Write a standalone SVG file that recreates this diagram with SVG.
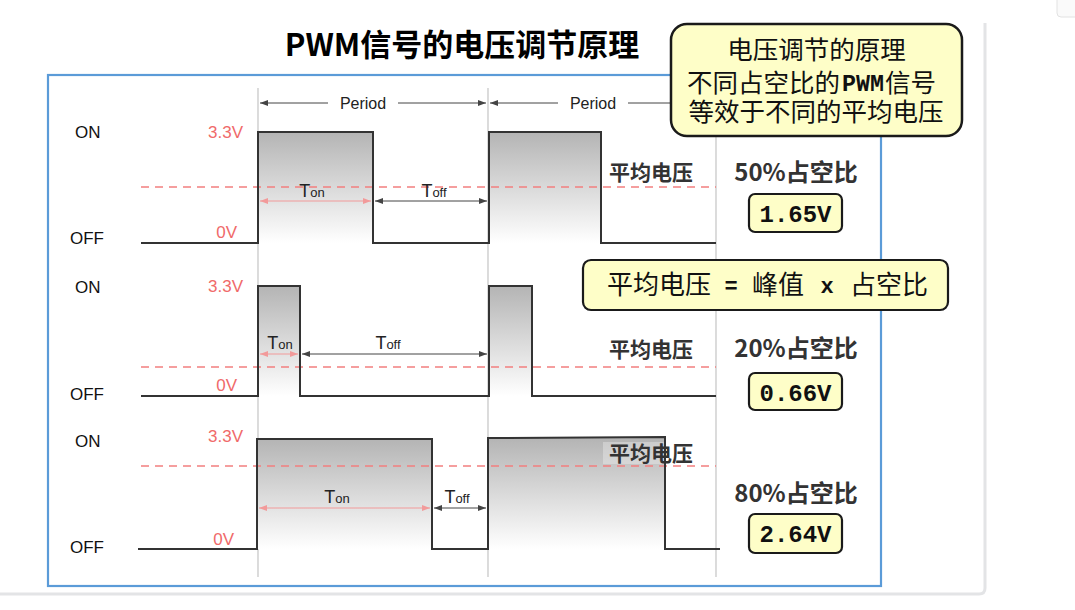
<svg xmlns="http://www.w3.org/2000/svg" width="1075" height="610" viewBox="0 0 1075 610">
<defs>
<linearGradient id="pulse" x1="0" y1="0" x2="0" y2="1">
<stop offset="0" stop-color="#b4b4b4"/>
<stop offset="1" stop-color="#ffffff"/>
</linearGradient>
<marker id="ad" markerWidth="8" markerHeight="6" refX="8" refY="3" orient="auto-start-reverse" markerUnits="userSpaceOnUse">
<path d="M0,0 L8,3 L0,6 z" fill="#444"/>
</marker>
<marker id="ap" markerWidth="8" markerHeight="6" refX="8" refY="3" orient="auto-start-reverse" markerUnits="userSpaceOnUse">
<path d="M0,0 L8,3 L0,6 z" fill="#f29a9a"/>
</marker>
<style>
.lat{font-family:"Liberation Sans",Arial,sans-serif;}
.cjk{font-family:"Noto Sans CJK SC","Noto Sans",sans-serif;}
.mono{font-family:"Liberation Mono","DejaVu Sans Mono",monospace;font-weight:bold;}
.lvl{font-size:17px;fill:#111;}
.red{font-size:17px;fill:#f06a6a;}
.sig{fill:none;stroke:#333;stroke-width:2;}
.fill{fill:url(#pulse);stroke:none;}
.vline{stroke:#c4c4c4;stroke-width:1.2;}
.dash{stroke:#f27f7f;stroke-width:1.5;stroke-dasharray:8 6;}
.dimd{stroke:#444;stroke-width:1;fill:none;}
.dimp{stroke:#f29a9a;stroke-width:1.2;fill:none;}
.tbig{font-size:18px;fill:#222;}
.tsm{font-size:13px;fill:#222;}
.avg{font-size:21px;font-weight:bold;fill:#333;}
.duty{font-size:24px;font-weight:bold;fill:#333;}
.ybox{fill:#fefec8;stroke:#1a1a1a;stroke-width:2.2;}
.val{font-size:24px;fill:#111;}
.bx{font-size:26px;fill:#111;}
.pr{font-size:25.5px;fill:#111;}
</style>
</defs>
<rect width="1075" height="610" fill="#ffffff"/>
<g id="page">
<path d="M-10,594 H979 Q985,594 985,588 V23" fill="none" stroke="#e3e4e6" stroke-width="3"/>
<rect x="1057" y="-6" width="26" height="23" rx="4" fill="#fafafa" stroke="#e2e2e2"/>
</g>
<g id="title">
<text x="462" y="56" text-anchor="middle" class="cjk" font-size="31" font-weight="bold" fill="#000">PWM信号的电压调节原理</text>
</g>
<g id="frame">
<rect x="48" y="75" width="833" height="511" fill="none" stroke="#5b9bd8" stroke-width="2.2"/>
</g>
<g id="grid">
<line class="vline" x1="258" y1="88" x2="258" y2="577"/>
<line class="vline" x1="488" y1="88" x2="488" y2="577"/>
<line class="vline" x1="716" y1="88" x2="716" y2="577"/>
</g>
<g id="period">
<text x="363" y="109" text-anchor="middle" class="lat" font-size="16" fill="#222">Period</text>
<text x="593" y="109" text-anchor="middle" class="lat" font-size="16" fill="#222">Period</text>
</g>
<g id="signal1">
<rect class="fill" x="258" y="132" width="115" height="111"/>
<rect class="fill" x="489" y="132" width="112" height="111"/>
<line class="dash" x1="141" y1="187" x2="716" y2="187"/>
<path class="sig" d="M141,243 H258 V132 H373 V243 H489 V132 H601 V243 H716"/>
<text x="75" y="138" class="lat lvl">ON</text>
<text x="70" y="244" class="lat lvl">OFF</text>
<text x="243" y="138" text-anchor="end" class="lat red">3.3V</text>
<text x="237" y="238" text-anchor="end" class="lat red">0V</text>
<text x="312" y="197" text-anchor="middle" class="lat"><tspan class="tbig">T</tspan><tspan class="tsm">on</tspan></text>
<text x="434" y="197" text-anchor="middle" class="lat"><tspan class="tbig">T</tspan><tspan class="tsm">off</tspan></text>
<text x="651" y="180" text-anchor="middle" class="cjk avg">平均电压</text>
<text x="796" y="181" text-anchor="middle" class="cjk duty">50%占空比</text>
<rect class="ybox" x="749" y="194" width="93" height="38" rx="6"/>
<text x="795.5" y="222" text-anchor="middle" class="mono val">1.65V</text>
</g>
<g id="signal2">
<rect class="fill" x="258" y="286" width="42" height="110"/>
<rect class="fill" x="489" y="286" width="43" height="110"/>
<line class="dash" x1="141" y1="367" x2="716" y2="367"/>
<path class="sig" d="M141,396 H258 V286 H300 V396 H489 V286 H532 V396 H716"/>
<text x="75" y="293" class="lat lvl">ON</text>
<text x="70" y="400" class="lat lvl">OFF</text>
<text x="243" y="292" text-anchor="end" class="lat red">3.3V</text>
<text x="237" y="391" text-anchor="end" class="lat red">0V</text>
<text x="280" y="349" text-anchor="middle" class="lat"><tspan class="tbig">T</tspan><tspan class="tsm">on</tspan></text>
<text x="388" y="349" text-anchor="middle" class="lat"><tspan class="tbig">T</tspan><tspan class="tsm">off</tspan></text>
<text x="651" y="357" text-anchor="middle" class="cjk avg">平均电压</text>
<text x="796" y="357" text-anchor="middle" class="cjk duty">20%占空比</text>
<rect class="ybox" x="749" y="373" width="93" height="37" rx="6"/>
<text x="795.5" y="401" text-anchor="middle" class="mono val">0.66V</text>
</g>
<g id="signal3">
<rect class="fill" x="257" y="439" width="175" height="110"/>
<rect class="fill" x="488" y="438" width="177" height="111"/>
<rect x="603" y="442" width="61" height="22" fill="#ffffff" opacity="0.3"/>
<line class="dash" x1="141" y1="466" x2="716" y2="466"/>
<path class="sig" d="M138,549 H257 V439 H432 V549 H488 V438 L665,437 V549 H720"/>
<text x="75" y="447" class="lat lvl">ON</text>
<text x="70" y="553" class="lat lvl">OFF</text>
<text x="243" y="442" text-anchor="end" class="lat red">3.3V</text>
<text x="234" y="545" text-anchor="end" class="lat red">0V</text>
<text x="337" y="503" text-anchor="middle" class="lat"><tspan class="tbig">T</tspan><tspan class="tsm">on</tspan></text>
<text x="457" y="503" text-anchor="middle" class="lat"><tspan class="tbig">T</tspan><tspan class="tsm">off</tspan></text>
<text x="651" y="461" text-anchor="middle" class="cjk avg">平均电压</text>
<text x="796" y="502" text-anchor="middle" class="cjk duty">80%占空比</text>
<rect class="ybox" x="749" y="514" width="93" height="39" rx="6"/>
<text x="795.5" y="542" text-anchor="middle" class="mono val">2.64V</text>
</g>
<g id="connectors">
<path class="dimd" d="M260,103 H328" marker-start="url(#ad)"/>
<path class="dimd" d="M398,103 H486" marker-end="url(#ad)"/>
<path class="dimd" d="M490,103 H558" marker-start="url(#ad)"/>
<path class="dimd" d="M628,103 H700"/>
<path class="dimp" d="M260,201 H371" marker-start="url(#ap)" marker-end="url(#ap)"/>
<path class="dimd" d="M375,201 H487" marker-start="url(#ad)" marker-end="url(#ad)"/>
<path class="dimp" d="M260,354 H298" marker-start="url(#ap)" marker-end="url(#ap)"/>
<path class="dimd" d="M302,354 H487" marker-start="url(#ad)" marker-end="url(#ad)"/>
<path class="dimp" d="M259,508 H430" marker-start="url(#ap)" marker-end="url(#ap)"/>
<path class="dimd" d="M434,508 H486" marker-start="url(#ad)" marker-end="url(#ad)"/>
</g>
<g id="formula">
<rect class="ybox" x="583" y="260" width="365" height="50" rx="8"/>
<text x="607" y="294" class="cjk bx">平均电压</text>
<text x="731" y="293" text-anchor="middle" class="mono" font-size="22" fill="#111">=</text>
<text x="752" y="294" class="cjk bx">峰值</text>
<text x="827" y="293" text-anchor="middle" class="mono" font-size="22" fill="#111">x</text>
<text x="850" y="294" class="cjk bx">占空比</text>
</g>
<g id="principle">
<rect x="671" y="24" width="291" height="112" rx="16" fill="#fefec8" stroke="#1a1a1a" stroke-width="2.5"/>
<text x="816.5" y="59" text-anchor="middle" class="cjk pr">电压调节的原理</text>
<text x="687" y="92" class="cjk pr">不同占空比的</text>
<text x="842" y="91" class="mono" font-size="24" textLength="42" lengthAdjust="spacingAndGlyphs" fill="#111">PWM</text>
<text x="885" y="92" class="cjk pr">信号</text>
<text x="816" y="121" text-anchor="middle" class="cjk pr">等效于不同的平均电压</text>
</g>
</svg>
